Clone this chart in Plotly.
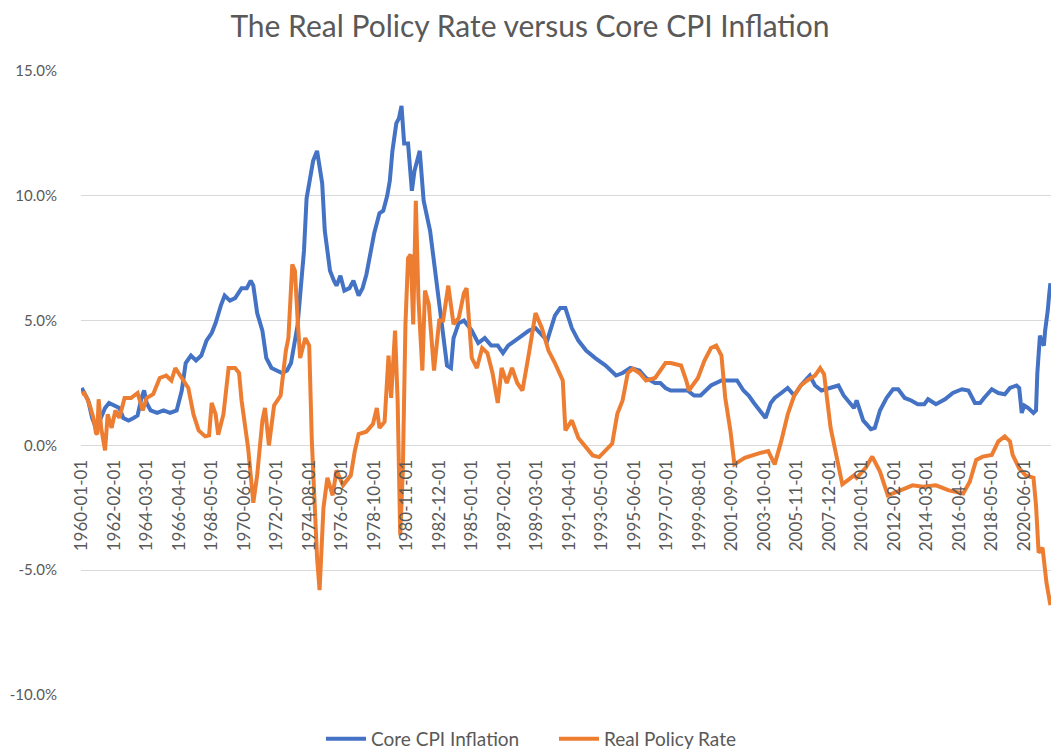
import plotly.graph_objects as go

# ---- Data (monthly dates, percent) ----
cpi_dates = [
    "1960-01", "1960-03", "1960-06", "1960-09", "1960-12", "1961-03", "1961-07", "1961-10",
    "1962-02", "1962-06", "1962-09", "1963-01", "1963-05", "1963-08", "1963-11", "1964-01",
    "1964-03", "1964-06", "1964-11", "1965-04", "1965-09", "1966-02", "1966-06", "1966-09",
    "1967-01", "1967-05", "1967-09", "1968-01", "1968-05", "1968-08", "1968-12", "1969-03",
    "1969-07", "1969-11", "1970-04", "1970-08", "1970-11", "1971-01", "1971-04", "1971-08",
    "1971-11", "1972-03", "1972-07", "1972-11", "1973-03", "1973-06", "1973-11", "1974-02",
    "1974-04", "1974-06", "1974-09", "1974-11", "1975-02", "1975-06", "1975-08", "1975-12",
    "1976-03", "1976-05", "1976-08", "1976-11", "1977-03", "1977-06", "1977-10", "1978-01",
    "1978-04", "1978-07", "1978-10", "1979-02", "1979-05", "1979-08", "1979-10", "1979-12",
    "1980-03", "1980-05", "1980-07", "1980-09", "1980-12", "1981-03", "1981-05", "1981-09",
    "1981-12", "1982-05", "1982-10", "1983-02", "1983-06", "1983-09", "1983-11", "1984-03",
    "1984-07", "1984-10", "1985-01", "1985-06", "1985-11", "1986-04", "1986-09", "1987-01",
    "1987-05", "1988-01", "1988-09", "1989-02", "1989-07", "1989-11", "1990-05", "1990-09",
    "1991-01", "1991-06", "1991-11", "1992-05", "1992-12", "1993-08", "1994-04", "1994-09",
    "1995-03", "1995-10", "1996-03", "1996-10", "1997-02", "1997-06", "1997-10", "1998-06",
    "1998-11", "1999-04", "1999-09", "2000-01", "2000-05", "2001-01", "2001-08", "2002-01",
    "2002-06", "2002-10", "2003-02", "2003-07", "2003-11", "2004-03", "2004-06", "2004-11",
    "2005-04", "2005-09", "2006-02", "2006-09", "2007-01", "2007-06", "2008-01", "2008-07",
    "2008-11", "2009-02", "2009-07", "2009-09", "2010-02", "2010-08", "2010-11", "2011-03",
    "2011-08", "2012-01", "2012-05", "2012-10", "2013-03", "2013-08", "2014-01", "2014-04",
    "2014-10", "2015-05", "2015-11", "2016-06", "2016-11", "2017-04", "2017-08", "2017-11",
    "2018-05", "2018-10", "2019-03", "2019-07", "2019-12", "2020-02", "2020-04", "2020-06",
    "2020-09", "2021-01", "2021-03", "2021-04", "2021-06", "2021-07", "2021-09", "2021-10",
    "2021-11", "2021-12", "2022-01", "2022-02",
]
core_cpi = [
    2.3, 2.1, 1.8, 1.1, 0.7, 1.0, 1.5, 1.7,
    1.6, 1.5, 1.1, 1.0, 1.1, 1.2, 1.9, 2.2,
    1.7, 1.4, 1.3, 1.4, 1.3, 1.4, 2.2, 3.3,
    3.6, 3.4, 3.6, 4.2, 4.5, 4.9, 5.6, 6.0,
    5.8, 5.9, 6.3, 6.3, 6.6, 6.4, 5.3, 4.6,
    3.5, 3.1, 3.0, 2.9, 3.0, 3.3, 4.8, 6.5,
    7.8, 9.9, 10.7, 11.4, 11.8, 10.5, 8.6, 7.0,
    6.6, 6.4, 6.8, 6.2, 6.3, 6.6, 6.0, 6.3,
    6.85, 7.6, 8.5, 9.3, 9.4, 10.0, 10.6, 11.8,
    12.9, 13.1, 13.6, 12.1, 12.1, 10.2, 11.0, 11.8,
    9.8, 8.6, 6.5, 4.6, 3.2, 3.1, 4.3, 4.9,
    5.0, 4.8, 4.6, 4.1, 4.3, 4.0, 4.0, 3.7,
    4.0, 4.3, 4.6, 4.7, 4.4, 4.2, 5.2, 5.5,
    5.5, 4.7, 4.2, 3.8, 3.5, 3.2, 2.8, 2.9,
    3.1, 3.0, 2.7, 2.5, 2.5, 2.3, 2.2, 2.2,
    2.2, 2.0, 2.0, 2.2, 2.4, 2.6, 2.6, 2.6,
    2.2, 2.0, 1.7, 1.4, 1.1, 1.7, 1.9, 2.1,
    2.3, 2.0, 2.4, 2.8, 2.4, 2.2, 2.3, 2.4,
    2.0, 1.8, 1.5, 1.8, 1.0, 0.65, 0.7, 1.4,
    1.9, 2.25, 2.25, 1.9, 1.8, 1.65, 1.65, 1.85,
    1.65, 1.85, 2.1, 2.25, 2.2, 1.7, 1.7, 1.9,
    2.25, 2.1, 2.05, 2.3, 2.4, 2.3, 1.3, 1.6,
    1.5, 1.3, 1.4, 2.9, 4.4, 4.2, 4.0, 4.6,
    4.9, 5.4, 6.0, 6.5,
]

rate_dates = [
    "1960-01", "1960-03", "1960-05", "1960-07", "1960-10", "1960-12", "1961-01", "1961-02",
    "1961-04", "1961-07", "1961-09", "1961-12", "1962-03", "1962-06", "1962-10", "1963-03",
    "1963-08", "1963-12", "1964-03", "1964-08", "1965-01", "1965-06", "1965-10", "1966-01",
    "1966-06", "1966-11", "1967-03", "1967-07", "1967-12", "1968-03", "1968-05", "1968-08",
    "1968-10", "1969-02", "1969-06", "1969-11", "1970-02", "1970-04", "1970-09", "1971-01",
    "1971-04", "1971-08", "1971-10", "1972-01", "1972-05", "1972-10", "1973-02", "1973-04",
    "1973-07", "1973-09", "1973-11", "1974-01", "1974-05", "1974-08", "1974-10", "1975-02",
    "1975-04", "1975-07", "1975-10", "1976-02", "1976-05", "1976-10", "1977-04", "1977-07",
    "1977-10", "1978-04", "1978-09", "1978-12", "1979-02", "1979-06", "1979-09", "1979-11",
    "1980-02", "1980-04", "1980-06", "1980-08", "1980-10", "1980-12", "1981-02", "1981-04",
    "1981-06", "1981-08", "1981-11", "1982-01", "1982-04", "1982-08", "1982-12", "1983-03",
    "1983-07", "1983-11", "1984-03", "1984-07", "1984-09", "1984-11", "1985-01", "1985-05",
    "1985-09", "1986-01", "1986-05", "1986-09", "1986-12", "1987-04", "1987-08", "1987-12",
    "1988-04", "1988-09", "1989-02", "1989-07", "1989-12", "1990-05", "1990-11", "1991-01",
    "1991-06", "1991-11", "1992-05", "1992-10", "1993-03", "1993-08", "1994-01", "1994-05",
    "1994-09", "1995-01", "1995-05", "1995-10", "1996-03", "1996-10", "1997-02", "1997-06",
    "1997-10", "1998-06", "1998-10", "1998-12", "1999-07", "1999-12", "2000-05", "2000-09",
    "2001-01", "2001-04", "2001-08", "2001-11", "2002-07", "2003-02", "2003-07", "2004-01",
    "2004-06", "2004-11", "2005-04", "2005-09", "2006-02", "2006-07", "2007-01", "2007-05",
    "2007-08", "2008-01", "2008-06", "2008-10", "2009-02", "2009-07", "2009-09", "2010-04",
    "2010-09", "2011-03", "2011-09", "2012-03", "2012-10", "2013-04", "2013-12", "2014-10",
    "2015-08", "2016-07", "2016-12", "2017-05", "2017-10", "2018-05", "2018-10", "2019-03",
    "2019-07", "2019-09", "2020-02", "2020-07", "2021-01", "2021-03", "2021-05", "2021-08",
    "2021-11", "2022-02",
]
real_rate = [
    2.05, 2.1, 1.9, 1.65, 1.1, 0.5, 0.45, 1.85,
    0.7, -0.2, 1.25, 0.7, 1.4, 1.1, 1.9, 1.9,
    2.1, 1.4, 1.9, 2.05, 2.7, 2.8, 2.6, 3.1,
    2.7, 2.3, 1.25, 0.6, 0.36, 0.4, 1.7, 1.25,
    0.43, 1.25, 3.1, 3.1, 2.9, 1.8, -0.1, -2.3,
    -1.2, 1.0, 1.5, 0.0, 1.6, 2.0, 3.8, 4.3,
    7.25, 7.0, 5.1, 3.5, 4.3, 4.0, 0.2, -4.5,
    -5.8, -2.5, -1.3, -2.0, -1.0, -1.6, -1.2, -0.25,
    0.45, 0.55, 0.85, 1.5, 0.7, 0.95, 3.6, 1.9,
    4.6, 1.8, -3.6, -1.0, 4.85, 7.5, 7.65, 4.85,
    9.8, 5.9, 3.0, 6.2, 5.65, 3.0, 5.0, 5.0,
    6.4, 4.85, 5.1, 6.1, 6.3, 4.6, 3.5, 3.1,
    3.9, 3.7, 2.9, 1.7, 3.1, 2.5, 3.1, 2.5,
    2.2, 3.7, 5.3, 4.7, 3.8, 3.3, 2.6, 0.6,
    1.0, 0.3, -0.07, -0.4, -0.47, -0.2, 0.07, 1.27,
    1.8, 2.9, 3.07, 2.9, 2.6, 2.7, 3.0, 3.3,
    3.3, 3.2, 2.6, 2.2, 2.7, 3.4, 3.9, 4.0,
    3.6, 1.9, 0.57, -0.76, -0.5, -0.36, -0.3, -0.23,
    -0.76, 0.17, 1.24, 2.0, 2.4, 2.6, 2.8, 3.1,
    2.85, 0.7, -0.5, -1.56, -1.4, -1.2, -1.3, -0.9,
    -0.45, -1.05, -2.0, -1.86, -1.73, -1.6, -1.66, -1.6,
    -1.8, -1.93, -1.46, -0.58, -0.45, -0.38, 0.16, 0.36,
    0.16, -0.38, -0.92, -1.2, -1.3, -2.4, -4.3, -4.1,
    -5.5, -6.4,
]

x_tick_labels = [
    "1960-01-01", "1962-02-01", "1964-03-01", "1966-04-01", "1968-05-01", "1970-06-01",
    "1972-07-01", "1974-08-01", "1976-09-01", "1978-10-01", "1980-11-01", "1982-12-01",
    "1985-01-01", "1987-02-01", "1989-03-01", "1991-04-01", "1993-05-01", "1995-06-01",
    "1997-07-01", "1999-08-01", "2001-09-01", "2003-10-01", "2005-11-01", "2007-12-01",
    "2010-01-01", "2012-02-01", "2014-03-01", "2016-04-01", "2018-05-01", "2020-06-01",
]
y_tick_values = [-10, -5, 0, 5, 10, 15]
y_tick_labels = ["-10.0%", "-5.0%", "0.0%", "5.0%", "10.0%", "15.0%"]

series_names = ["Core CPI Inflation", "Real Policy Rate"]
series_colors = ["#4472C4", "#ED7D31"]

FONT = "Lato, 'Open Sans', sans-serif"
GREY = "#595959"

# page body has an 8px margin, so the figure is sized/positioned to compensate
W, H = 1053, 748
ML, MR, MT, MB = 73, 10, 63, 61
PLOT_W = W - ML - MR
PLOT_H = H - MT - MB

fig = go.Figure()
fig.add_trace(go.Scatter(
    x=cpi_dates, y=core_cpi, mode="lines", name=series_names[0],
    line=dict(color=series_colors[0], width=4),
))
fig.add_trace(go.Scatter(
    x=rate_dates, y=real_rate, mode="lines", name=series_names[1],
    line=dict(color=series_colors[1], width=4),
))

fig.update_layout(
    width=W, height=H,
    paper_bgcolor="white", plot_bgcolor="white",
    margin=dict(l=ML, r=MR, t=MT, b=MB, autoexpand=False),
    title=dict(
        text="The Real Policy Rate versus Core CPI Inflation",
        x=(530 - 8) / W, xanchor="center", xref="container",
        y=1 - 18 / H, yanchor="middle", yref="container",
        font=dict(family=FONT, size=30, color=GREY),
    ),
    showlegend=True,
    legend=dict(
        orientation="h", x=(313 - ML) / PLOT_W, xanchor="left",
        y=-44 / PLOT_H, yanchor="middle",
        font=dict(family=FONT, size=19, color=GREY),
        bgcolor="rgba(0,0,0,0)", itemwidth=40, tracegroupgap=0,
        entrywidth=178, entrywidthmode="pixels",
    ),
    xaxis=dict(
        type="date",
        range=["1959-12-16", "2022-02-15"],
        tickmode="array",
        tickvals=x_tick_labels,
        ticktext=x_tick_labels,
        tickangle=-90,
        tickfont=dict(family=FONT, size=17, color=GREY),
        showgrid=False, zeroline=False, showline=False,
        ticks="",
        anchor="free", position=0.4,
        ticklabelstandoff=10,
    ),
    yaxis=dict(
        range=[-10, 15],
        tickmode="array",
        tickvals=y_tick_values,
        ticktext=y_tick_labels,
        tickfont=dict(family=FONT, size=15, color=GREY),
        showgrid=True, gridcolor="#D9D9D9", gridwidth=1,
        zeroline=False, showline=False, ticks="",
        ticklabelstandoff=23,
    ),
)

fig.write_html("out.html")
